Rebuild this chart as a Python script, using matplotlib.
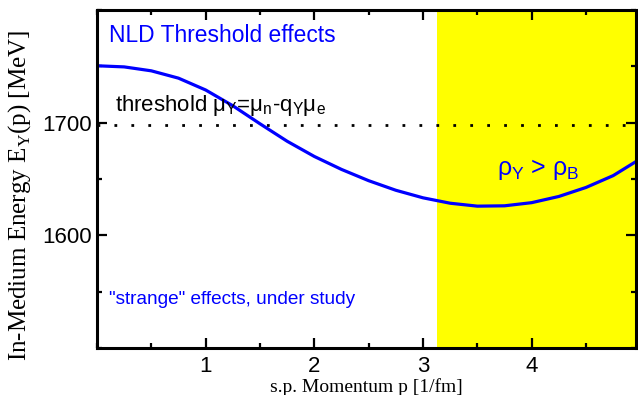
import matplotlib
matplotlib.use("Agg")
import matplotlib.pyplot as plt
from matplotlib.ticker import MultipleLocator

# Data
p_vals = [0.0, 0.25, 0.5, 0.75, 1.0, 1.25, 1.5, 1.75, 2.0, 2.25, 2.5,
          2.75, 3.0, 3.25, 3.5, 3.75, 4.0, 4.25, 4.5, 4.75, 4.96]
e_vals = [1750.5, 1749.5, 1746, 1739.5, 1729, 1715, 1699, 1683.5, 1670, 1658.5, 1648.5,
          1640, 1633.3, 1628.5, 1625.9, 1626.2, 1629, 1634.5, 1642.5, 1653, 1665.5]
threshold = 1697.5
strange_start = 3.13
xlim = (0.0, 4.96)
ylim = (1500, 1800)
xticks = [1, 2, 3, 4]
yticks = [1600, 1700]

fig = plt.figure(figsize=(6.38, 3.95), dpi=100)
ax = fig.add_axes([97/638, 1 - 348/395, (636 - 97)/638, (348 - 10)/395])

ax.axvspan(strange_start, xlim[1], color=(1, 1, 0), zorder=0, lw=0)
ax.axhline(threshold, color='black', lw=2.0, linestyle=(0, (1, 5.1)), zorder=1)
ax.plot(p_vals, e_vals, color=(0, 0, 1), lw=2.3, zorder=2,
        solid_joinstyle='round', solid_capstyle='round')

ax.set_xlim(*xlim)
ax.set_ylim(*ylim)
ax.set_xticks(xticks)
ax.set_yticks(yticks)
ax.xaxis.set_minor_locator(MultipleLocator(0.5))
ax.yaxis.set_minor_locator(MultipleLocator(50))
ax.tick_params(which='both', direction='in', top=True, right=True, width=1.6)
ax.tick_params(which='major', length=7, labelsize=16)
ax.tick_params(axis='x', which='major', pad=5.5)
ax.tick_params(axis='y', which='major', pad=4)
ax.tick_params(which='minor', length=3.5)
for lab in ax.get_xticklabels() + ax.get_yticklabels():
    lab.set_family('Liberation Sans')
for s in ax.spines.values():
    s.set_linewidth(2.2)

ax.set_xlabel('s.p. Momentum p [1/fm]', family='Liberation Serif', fontsize=14)
ax.xaxis.set_label_coords(0.5, -(378 - 348) / 338)
ax.set_ylabel(r'In-Medium Energy E$_\mathregular{Y}$(p) [MeV]', family='Liberation Serif',
              fontsize=18)
ax.yaxis.set_label_coords(-(97 - 33) / 539, (348 - 195) / 338)

sans = 'Liberation Sans'
ax.text(0.11, 1771.4, 'NLD Threshold effects', color=(0, 0, 1), family=sans,
        fontsize=16.4, va='baseline', ha='left')
ax.text(0.17, 1710, r'threshold $\mathregular{\mu_Y}$=$\mathregular{\mu_n}$-q$_\mathregular{Y}$$\mathregular{\mu_e}$',
        color='black', family=sans, fontsize=16, va='baseline', ha='left')
ax.text(3.68, 1653.6, r'$\mathregular{\rho_Y}$ > $\mathregular{\rho_B}$', color=(0, 0, 1), family=sans,
        fontsize=18, va='baseline', ha='left')
ax.text(0.11, 1539.3, '"strange" effects, under study', color=(0, 0, 1), family=sans,
        fontsize=13.7, va='baseline', ha='left')

fig.savefig('out.png', dpi=100)
